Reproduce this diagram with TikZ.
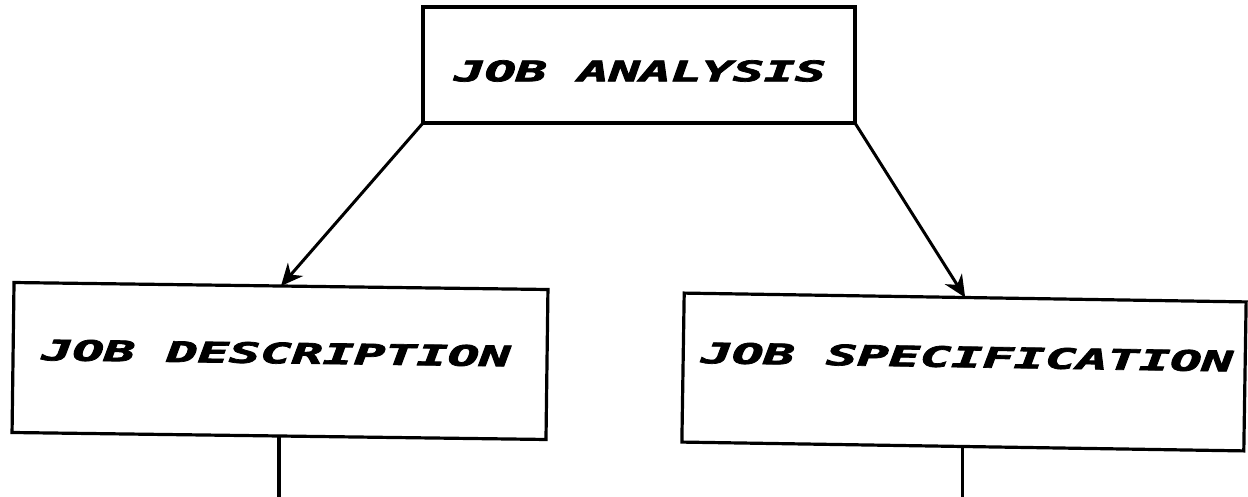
\documentclass[tikz,border=0pt]{standalone}
\usepackage{fontspec}
\newfontfamily\plotfont{DejaVu Sans Mono}[FakeBold=2.5]
\usetikzlibrary{arrows.meta}
\newcommand{\plotlabel}[2]{\resizebox{#1}{21pt}{\plotfont\bfseries\itshape #2}}
\begin{document}
\begin{tikzpicture}[x=1pt,y=-1pt,
  box/.style={draw, line width=3.2pt, inner sep=0pt, outer sep=0pt},
  lbl/.style={inner sep=0pt, outer sep=0pt},
  arr/.style={line width=3pt, -{Stealth[length=22pt,width=20pt,inset=7pt]}},
  stem/.style={line width=3.2pt}]
\useasboundingbox (0,0) rectangle (1248,497);
\node[box, minimum width=432pt, minimum height=116pt] (ja) at (639,65) {};
\node[lbl] (jat) at (640,71) {\plotlabel{372pt}{JOB ANALYSIS}};
\node[box, minimum width=534pt, minimum height=150pt, rotate=-0.75] (jd) at (280,361) {};
\node[lbl, rotate=-0.75] (jdt) at (276,353) {\plotlabel{469pt}{JOB DESCRIPTION}};
\node[box, minimum width=562pt, minimum height=149pt, rotate=-0.9] (js) at (964,372) {};
\node[lbl, rotate=-0.9] (jst) at (967,357) {\plotlabel{532pt}{JOB SPECIFICATION}};
\draw[arr] (ja.south west) -- (jd.north);
\draw[arr] (ja.south east) -- (js.north);
\coordinate (jde) at (279,497);
\coordinate (jse) at (961,497);
\draw[stem] (jd.south) -- (jd.south |- jde);
\draw[stem] (js.south) -- (js.south |- jse);
\end{tikzpicture}
\end{document}
